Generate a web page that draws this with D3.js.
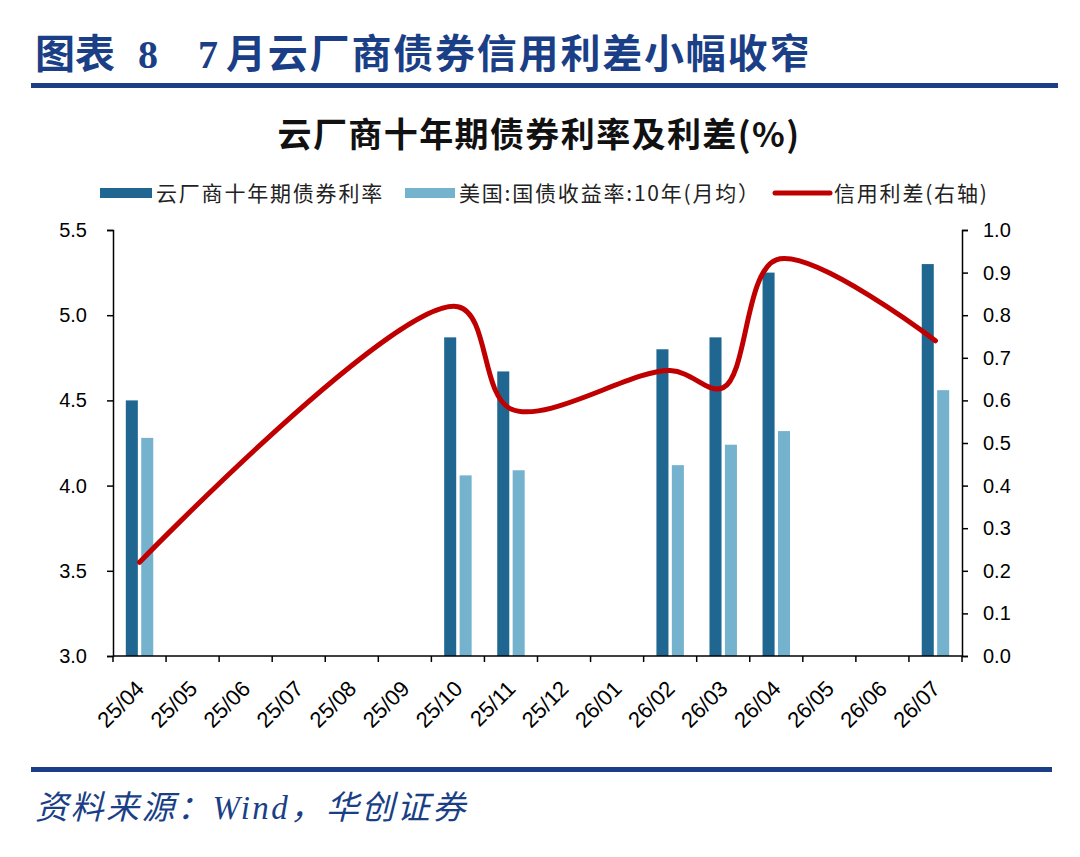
<!DOCTYPE html>
<html>
<head>
<meta charset="utf-8">
<script src="https://cdn.jsdelivr.net/npm/d3@7"></script>
<style>
  body { margin: 0; background: #fff; }
  svg { display: block; }
</style>
</head>
<body>
<svg id="chart" width="1080" height="857"></svg>
<script>
const months = ['25/04', '25/05', '25/06', '25/07', '25/08', '25/09', '25/10', '25/11',
    '25/12', '26/01', '26/02', '26/03', '26/04', '26/05', '26/06', '26/07'];
// 云厂商十年期债券利率 (left axis)
const cloudYield = [4.50, null, null, null, null, null, 4.87, 4.67,
    null, null, 4.80, 4.87, 5.25, null, null, 5.30];
// 美国:国债收益率:10年(月均) (left axis)
const ustYield = [4.28, null, null, null, null, null, 4.06, 4.09,
    null, null, 4.12, 4.24, 4.32, null, null, 4.56];
// 信用利差 (right axis)
const spread = [0.22, null, null, null, null, null, 0.82, 0.58,
    null, null, 0.67, 0.63, 0.93, null, null, 0.74];
const leftTicks = [3.0, 3.5, 4.0, 4.5, 5.0, 5.5];
const rightTicks = [0, 0.1, 0.2, 0.3, 0.4, 0.5, 0.6, 0.7, 0.8, 0.9, 1.0];
const seriesNames = ['云厂商十年期债券利率', '美国:国债收益率:10年(月均）', '信用利差(右轴)'];

const dark = '#1F6690';
const light = '#75B2CE';
const red = '#C00000';
const navy = '#1A3F86';
const cjk = '"Noto Sans CJK SC", sans-serif';
const latin = '"Liberation Sans", Arial, sans-serif';

const svg = d3.select('#chart');
const plotL = 113, plotR = 962, plotT = 230, plotB = 656;

// page title + rules
const title = svg.append('text')
    .attr('y', 68)
    .attr('fill', navy)
    .attr('font-size', 40)
    .attr('font-weight', 'bold')
    .attr('font-family', '"Liberation Serif", "Noto Sans CJK SC", serif');
title.append('tspan').attr('x', 35).text('图表');
title.append('tspan').attr('x', 138).text('8');
title.append('tspan').attr('x', 198).text('7');
title.append('tspan').attr('x', 226).attr('letter-spacing', 1.8).text('月云厂商债券信用利差小幅收窄');

svg.append('rect').attr('x', 31).attr('y', 83).attr('width', 1027).attr('height', 5).attr('fill', navy);
svg.append('rect').attr('x', 31).attr('y', 767).attr('width', 1021).attr('height', 5).attr('fill', navy);

svg.append('text')
    .attr('x', 35).attr('y', 819)
    .attr('fill', navy)
    .attr('font-size', 33)
    .attr('font-style', 'italic')
    .attr('letter-spacing', 2.5)
    .attr('font-family', '"Liberation Serif", "Noto Sans CJK SC", serif')
    .text('资料来源：Wind，华创证券');

// chart title
svg.append('text')
    .attr('x', 539).attr('y', 147)
    .attr('text-anchor', 'middle')
    .attr('font-size', 34)
    .attr('font-weight', 'bold')
    .attr('letter-spacing', 1.4)
    .attr('font-family', cjk)
    .attr('fill', '#111')
    .text('云厂商十年期债券利率及利差(%)');

// scales
const x = d3.scaleBand().domain(months).range([plotL, plotR]).padding(0);
const inner = d3.scaleBand().domain(['cloud', 'ust']).range([0, x.bandwidth()])
    .paddingInner(0.22).paddingOuter(0.83);
const yL = d3.scaleLinear().domain([3.0, 5.5]).range([plotB, plotT]);
const yR = d3.scaleLinear().domain([0, 1.0]).range([plotB, plotT]);

// bars
const barData = [];
months.forEach((m, i) => {
    if (cloudYield[i] != null) barData.push({ m, key: 'cloud', v: cloudYield[i] });
    if (ustYield[i] != null) barData.push({ m, key: 'ust', v: ustYield[i] });
});
svg.append('g')
    .selectAll('rect')
    .data(barData)
    .join('rect')
    .attr('x', d => x(d.m) + inner(d.key))
    .attr('width', inner.bandwidth())
    .attr('y', d => yL(d.v))
    .attr('height', d => yL(3.0) - yL(d.v))
    .attr('fill', d => d.key === 'cloud' ? dark : light);

// spread line
const linePts = months.map((m, i) => ({ m, v: spread[i] })).filter(d => d.v != null);
const line = d3.line()
    .x(d => x(d.m) + x.bandwidth() / 2)
    .y(d => yR(d.v))
    .curve(d3.curveCatmullRom.alpha(0.5));
svg.append('path')
    .datum(linePts)
    .attr('d', line)
    .attr('fill', 'none')
    .attr('stroke', red)
    .attr('stroke-width', 5)
    .attr('stroke-linecap', 'round')
    .attr('stroke-linejoin', 'round');

// axes
const axisStyle = g => {
    g.selectAll('.domain').attr('stroke', '#000').attr('stroke-width', 1.5);
    g.selectAll('.tick line').attr('stroke', '#000').attr('stroke-width', 1.5);
    g.selectAll('.tick text').attr('font-size', 20).attr('font-family', latin).attr('fill', '#000');
};
svg.append('g')
    .attr('transform', `translate(${plotL},0)`)
    .call(d3.axisLeft(yL).tickValues(leftTicks).tickFormat(d3.format('.1f')).tickSize(6).tickSizeOuter(6).tickPadding(20))
    .call(axisStyle);
svg.append('g')
    .attr('transform', `translate(${plotR},0)`)
    .call(d3.axisRight(yR).tickValues(rightTicks).tickFormat(d3.format('.1f')).tickSize(6).tickSizeOuter(6).tickPadding(15))
    .call(axisStyle);

const xTicks = d3.range(months.length + 1).map(i => plotL + i * x.step());
const xAxis = svg.append('g');
xAxis.append('line')
    .attr('x1', plotL).attr('x2', plotR)
    .attr('y1', plotB).attr('y2', plotB)
    .attr('stroke', '#000').attr('stroke-width', 1.5);
xAxis.selectAll('.xt')
    .data(xTicks)
    .join('line')
    .attr('class', 'xt')
    .attr('x1', d => d).attr('x2', d => d)
    .attr('y1', plotB).attr('y2', plotB + 6)
    .attr('stroke', '#000').attr('stroke-width', 1.5);
xAxis.selectAll('text')
    .data(months)
    .join('text')
    .attr('transform', d => `translate(${x(d) + x.bandwidth() / 2 + 6},690) rotate(-45)`)
    .attr('text-anchor', 'end')
    .attr('font-size', 22)
    .attr('font-family', latin)
    .attr('fill', '#000')
    .text(d => d);

// legend
const legend = svg.append('g').attr('font-family', cjk).attr('font-size', 21).attr('fill', '#222');
const legendItems = [
    { name: seriesNames[0], type: 'rect', color: dark, x: 100, w: 52 },
    { name: seriesNames[1], type: 'rect', color: light, x: 405, w: 50 },
    { name: seriesNames[2], type: 'line', color: red, x: 775, w: 55 }
];
legendItems.forEach(it => {
    if (it.type === 'rect') {
        legend.append('rect').attr('x', it.x).attr('y', 188).attr('width', it.w).attr('height', 10).attr('fill', it.color);
    } else {
        legend.append('line').attr('x1', it.x).attr('x2', it.x + it.w).attr('y1', 193).attr('y2', 193)
            .attr('stroke', it.color).attr('stroke-width', 5).attr('stroke-linecap', 'round');
    }
    legend.append('text').attr('x', it.x + it.w + 4).attr('y', 201).attr('letter-spacing', 1.8).text(it.name);
});
</script>
</body>
</html>
